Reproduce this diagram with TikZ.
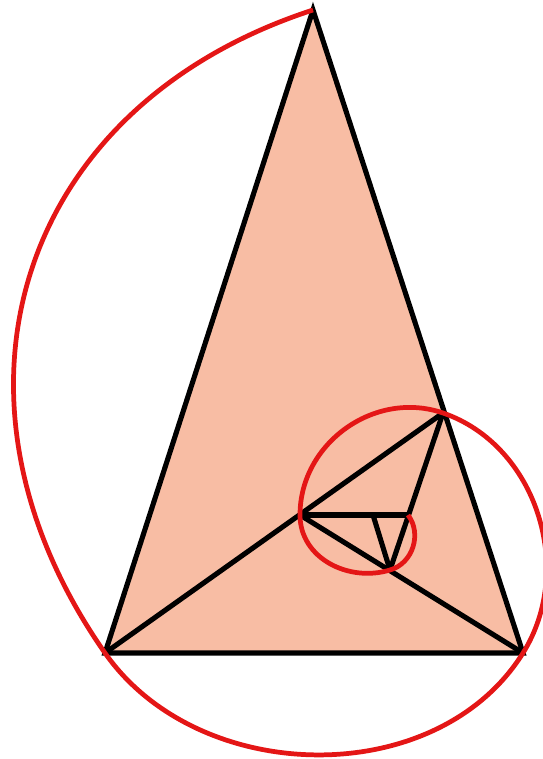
\documentclass[tikz,border=0pt]{standalone}
\usepackage{tikz}
\definecolor{peach}{RGB}{248,189,164}
\definecolor{spred}{RGB}{228,22,22}
\tikzset{tri/.style={fill=peach},
 ln/.style={line width=1.45pt},
 sp/.style={draw=spred,line width=1.35pt,looseness=1.05}}
\begin{document}
\begin{tikzpicture}
\useasboundingbox (0,0) rectangle (5.42,7.59);
% golden triangle and its cut points
\coordinate (a) at (3.13,7.49);\coordinate (b) at (1.05,1.06);\coordinate (c) at (5.23,1.06);
\coordinate (d) at (4.43,3.46);\coordinate (e) at (3.00,2.44);\coordinate (f) at (3.90,1.89);
\coordinate (g) at (4.08,2.44);\coordinate (h) at (3.73,2.44);
\fill[tri](a)--(b)--(c)--cycle;
\draw[ln](a)--(b)--(c)--cycle;\draw[ln](b)--(d);\draw[ln](c)--(e);\draw[ln](d)--(f);\draw[ln](e)--(g);\draw[ln](f)--(h);
% spiral
\draw[sp](a) to[out=198,in=125,looseness=1.18](b) to[out=305,in=238,looseness=1](c) to[out=58,in=341,looseness=1](d)
 to[out=161,in=90](e) to[out=270,in=197](f) to[out=16,in=307](g);
\end{tikzpicture}
\end{document}
